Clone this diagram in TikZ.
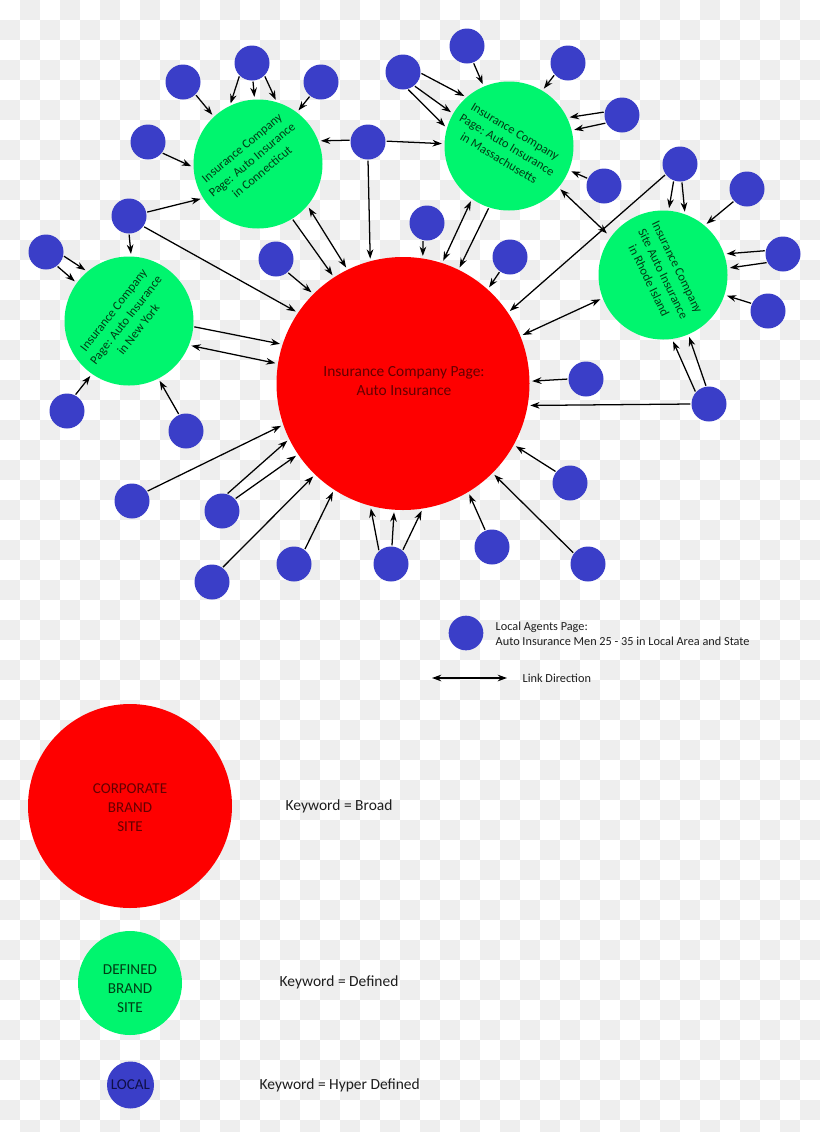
\documentclass[tikz,border=0pt]{standalone}
\usepackage{fontspec}
\setmainfont{Carlito}
\usetikzlibrary{arrows.meta}
\definecolor{myred}{RGB}{254,0,0}
\definecolor{mygreen}{RGB}{0,245,110}
\definecolor{myblue}{RGB}{58,62,200}
\definecolor{checkgray}{RGB}{238,238,238}
\definecolor{redtext}{RGB}{100,0,0}
\definecolor{greentext}{RGB}{0,60,20}
\definecolor{bluetext}{RGB}{15,15,70}
\definecolor{legtext}{RGB}{30,30,30}
\tikzset{
  bluenode/.style={circle, fill=myblue, minimum size=26.25pt, inner sep=0pt, outer sep=0pt},
  greennode/.style={circle, fill=mygreen, minimum size=96.75pt, inner sep=0pt, outer sep=0pt},
  rednode/.style={circle, fill=myred, minimum size=189.75pt, inner sep=0pt, outer sep=0pt},
  gtext/.style={align=center, text=greentext, font=\fontsize{9.4}{11.8}\selectfont, inner sep=0pt},
  arr/.style={-{Stealth[length=7pt,width=5pt]}, line width=0.95pt, shorten <=0.8pt, shorten >=2pt},
  darr/.style={{Stealth[length=7pt,width=5pt]}-{Stealth[length=7pt,width=5pt]}, line width=0.95pt, shorten <=2pt, shorten >=2pt},
  legbig/.style={font=\fontsize{11.6}{14.2}\selectfont, text=legtext},
  legsmall/.style={font=\fontsize{9.2}{11.4}\selectfont, text=legtext, align=left, anchor=west}
}
\begin{document}
\begin{tikzpicture}[x=0.75pt, y=-0.75pt]
\useasboundingbox (0,0) rectangle (820,1132);
% checkerboard background
\fill[white] (0,0) rectangle (820,1132);
\foreach \i in {0,...,40} {
  \foreach \j in {0,...,56} {
    \pgfmathtruncatemacro\chk{mod(\i+\j,2)}
    \ifnum\chk=1 \fill[checkgray] (\i*20,\j*20) rectangle ++(20,20); \fi
  }
}
% main circles
\node[rednode] (red) at (403,383.5) {};
\node[align=center, text=redtext, font=\fontsize{11.6}{14.4}\selectfont] (redl) at (404,381) {Insurance Company Page:\\Auto Insurance};
\node[greennode] (ct) at (258,164) {};
\node[greennode] (ny) at (129,321) {};
\node[greennode] (ma) at (509,146) {};
\node[greennode] (ri) at (663,275) {};
\node[gtext, rotate=40] (ctl) at (252,160) {Insurance Company\\Page: Auto Insurance\\in Connecticut};
\node[gtext, rotate=52] (nyl) at (126,320) {Insurance Company\\Page: Auto Insurance\\in New York};
\node[gtext, rotate=-31] (mal) at (507,145) {Insurance Company\\Page: Auto Insurance\\in Massachusetts};
\node[gtext, rotate=-64] (ril) at (663,274) {Insurance Company\\Site Auto Insurance\\in Rhode Island};
% blue nodes
\node[bluenode] (b1) at (183,82) {};
\node[bluenode] (b2) at (252,63) {};
\node[bluenode] (b3) at (321,82) {};
\node[bluenode] (b4) at (148,142) {};
\node[bluenode] (b5) at (368,142) {};
\node[bluenode] (b6) at (129,216) {};
\node[bluenode] (b7) at (46,252) {};
\node[bluenode] (b8) at (276,259) {};
\node[bluenode] (b9) at (403,72) {};
\node[bluenode] (b10) at (467,46) {};
\node[bluenode] (b11) at (568,63) {};
\node[bluenode] (b12) at (622,115) {};
\node[bluenode] (b13) at (604,186) {};
\node[bluenode] (b14) at (680,164) {};
\node[bluenode] (b15) at (747,189) {};
\node[bluenode] (b16) at (783,254) {};
\node[bluenode] (b17) at (768,311) {};
\node[bluenode] (b18) at (427,223) {};
\node[bluenode] (b19) at (510,257) {};
\node[bluenode] (b20) at (67,411) {};
\node[bluenode] (b21) at (186,431) {};
\node[bluenode] (b22) at (586,379) {};
\node[bluenode] (b23) at (709,404) {};
\node[bluenode] (b24) at (570,483) {};
\node[bluenode] (b25) at (492,547) {};
\node[bluenode] (b26) at (588,564) {};
\node[bluenode] (b29) at (132,501) {};
\node[bluenode] (b30) at (222,511) {};
\node[bluenode] (b31) at (212,582) {};
\node[bluenode] (b32) at (294,564) {};
\node[bluenode] (b33) at (391,564) {};
% connectors
\draw[arr] (b1.-45) -- (ct.133);
\draw[arr] (b2.-135) -- (ct.116);
\draw[arr] (b2.-87) -- (ct.93);
\draw[arr] (b2.-45) -- (ct.73);
\draw[arr] (b3.-128) -- (ct.53);
\draw[arr] (b4.-38) -- (ct.-177);
\draw[arr] (b5.174) -- (ct.21);
\draw[arr] (b5.-90) -- (red.105);
\draw[arr] (b5.3) -- (ma.178);
\draw[arr] (b6.12) -- (ct.212);
\draw[arr] (b6.-90) -- (ny.88);
\draw[arr] (b6.-36) -- (red.146);
\draw[arr] (b7.-12) -- (ny.130);
\draw[arr] (b7.-52) -- (ny.144);
\draw[arr] (ct.-58) -- (red.123);
\draw[darr] (ct.-40) -- (red.116);
\draw[arr] (b8.-49) -- (red.135);
\draw[arr] (b9.-3) -- (ma.131);
\draw[arr] (b9.-51) -- (ma.150);
\draw[arr] (b9.-75) -- (ma.164);
\draw[arr] (b10.-69) -- (ma.113);
\draw[arr] (b11.-139) -- (ma.59);
\draw[arr] (b12.170) -- (ma.26);
\draw[arr] (b12.-153) -- (ma.14);
\draw[arr] (b13.155) -- (ma.-22);
\draw[darr, shorten >=4pt] (ma.-40) -- (ri.144);
\draw[arr] (b14.-144) -- (red.34);
\draw[arr] (b14.-111) -- (ri.85);
\draw[arr] (b14.-84) -- (ri.70);
\draw[arr] (b15.-137) -- (ri.50);
\draw[arr] (b16.169) -- (ri.19);
\draw[arr] (b16.-151) -- (ri.6);
\draw[arr] (b17.155) -- (ri.-18);
\draw[darr] (ri.-159) -- (red.22);
\draw[arr] (b18.-103) -- (red.81.5);
\draw[darr] (ma.-125) -- (red.72);
\draw[arr] (ma.-108) -- (red.64);
\draw[arr] (b19.-125) -- (red.48.5);
\draw[arr] (b23.139) -- (ri.-82);
\draw[arr] (b23.99.5) -- (ri.-67);
\draw[arr] (b23.180) -- (red.-10.5);
\draw[arr] (b22.180) -- (red.1);
\draw[arr] (b24.141) -- (red.-29);
\draw[arr] (b26.143) -- (red.-45);
\draw[arr] (b25.112) -- (red.-59);
\draw[arr] (b33.133) -- (red.-105.6);
\draw[arr] (b33.87) -- (red.-94.4);
\draw[arr] (b33.49) -- (red.-81.5);
\draw[arr] (b32.53) -- (red.-123);
\draw[arr] (b31.54) -- (red.-134);
\draw[arr] (b30.74.5) -- (red.-154);
\draw[arr] (b30.43) -- (red.-146);
\draw[arr] (b29.33) -- (red.-161);
\draw[arr] (ny.-5) -- (red.162);
\draw[darr] (ny.-22) -- (red.171);
\draw[arr] (b20.63) -- (ny.-125.5);
\draw[arr] (b21.113) -- (ny.-63);
% legend top
\node[bluenode, minimum size=26pt] (lgb) at (466,633) {};
\node[legsmall] (lgbt) at (491,634) {Local Agents Page:\\Auto Insurance Men 25 - 35 in Local Area and State};
\coordinate (ldA) at (432,678);
\coordinate (ldB) at (507,678);
\draw[{Stealth[length=7pt,width=5pt]}-{Stealth[length=7pt,width=5pt]}, line width=0.95pt] (ldA) -- (ldB);
\node[legsmall] (ldt) at (518,678) {Link Direction};
% legend bottom
\node[rednode, minimum size=153pt] (lgr) at (130,806) {};
\node[align=center, text=redtext, font=\fontsize{11.3}{14.2}\selectfont] (lgrt) at (130,808) {CORPORATE\\BRAND\\SITE};
\node[legbig, anchor=west] (kb) at (281,806) {Keyword = Broad};
\node[greennode, minimum size=78pt] (lgg) at (130,983) {};
\node[align=center, text=greentext, font=\fontsize{11.4}{14.2}\selectfont] (lggt) at (130,989) {DEFINED\\BRAND\\SITE};
\node[legbig, anchor=west] (kd) at (275,982) {Keyword = Defined};
\node[bluenode, minimum size=35.25pt] (lgl) at (130.5,1085) {};
\node[text=bluetext, font=\fontsize{11.3}{14.2}\selectfont] (lglt) at (130.5,1085) {LOCAL};
\node[legbig, anchor=west] (kh) at (255,1085) {Keyword = Hyper Defined};
\end{tikzpicture}
\end{document}
